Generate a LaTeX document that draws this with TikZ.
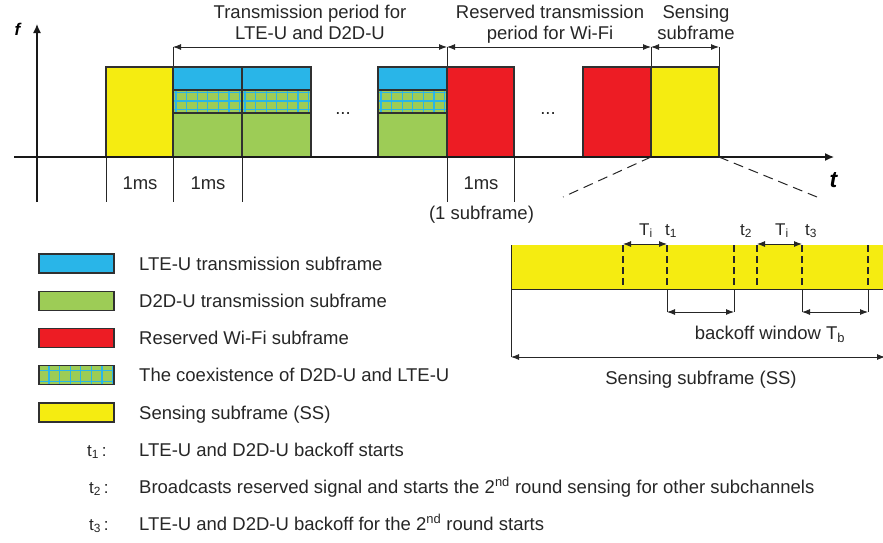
\documentclass[tikz,border=0pt]{standalone}
\usepackage{fontspec}
\setmainfont{Liberation Sans}
\usetikzlibrary{arrows.meta,positioning,calc}
\definecolor{lteblue}{RGB}{41,181,232}
\definecolor{dgreen}{RGB}{157,204,86}
\definecolor{wred}{RGB}{237,28,36}
\definecolor{ssyellow}{RGB}{245,236,17}
\definecolor{edge}{RGB}{48,48,48}
\tikzset{
  sub/.style    = { draw=edge, line width=1.4pt },
  lte/.style    = { sub, fill=lteblue },
  d2d/.style    = { sub, fill=dgreen },
  wifi/.style   = { sub, fill=wred },
  sens/.style   = { sub, fill=ssyellow },
  gridline/.style = { draw=lteblue, line width=1.1pt },
  coex/.style 2 args = { sub, fill=dgreen, path picture={
      \foreach \k in {0,...,7}
        \draw[gridline] ($(path picture bounding box.north west)+(#1+10.6*\k,0)$) -- +(0,40);
      \foreach \gy in {#2}
        \draw[gridline] ($(path picture bounding box.north west)+(0,\gy)$) -- +(90,0);
    }},
  lgd/.style    = { sub, minimum width=75pt, minimum height=19pt, inner sep=0pt, outer sep=0pt },
  txt/.style    = { inner sep=0pt, font=\fontsize{18.5}{21}\selectfont, text=black!85 },
  lgtxt/.style  = { txt, text depth=0pt },
  small/.style  = { inner sep=0pt, font=\fontsize{17}{20}\selectfont, text=black!85 },
  axis/.style   = { ->, >={Latex[length=9pt,width=8pt]}, line width=1.3pt, draw=black!90 },
  dim/.style    = { <->, >={Latex[length=8pt,width=6pt]}, line width=0.9pt, draw=black!85 },
  tick/.style   = { line width=1pt, draw=black!85 },
  slot/.style   = { line width=1.2pt, draw=black!85, dash pattern=on 7pt off 4pt },
  zoomline/.style = { line width=1pt, draw=black!85, dash pattern=on 10pt off 6pt }
}
\begin{document}
\begin{tikzpicture}[x=1pt, y=-1pt]
  \useasboundingbox (0,0) rectangle (883,542);
  % time axis ticks
  \foreach \x in {106,242,514} \draw[tick] (\x,157) -- (\x,202);
  \foreach \x in {173,447} \draw[tick] (\x,47) -- (\x,202);
  \foreach \x in {651,719} \draw[tick] (\x,47) -- (\x,67);

  % subframes
  \draw[sens] (106,67) rectangle (173,157);
  \foreach \x in {173,242,378} {
    \draw[lte] (\x,67) rectangle ++(69,23);
    \draw[coex={3}{2.5,11,19.5}] (\x,90) rectangle ++(69,23);
    \draw[d2d] (\x,113) rectangle ++(69,44);
  }
  \draw[wifi] (447,67) rectangle (514,157);
  \draw[wifi] (583,67) rectangle (651,157);
  \draw[sens] (651,67) rectangle (719,157);
  \node[txt, anchor=base] (dots1) at (343,114) {...};
  \node[txt, anchor=base] (dots2) at (548,114) {...};

  % axes
  \coordinate (t0) at (14,157);
  \coordinate (t1) at (834,157);
  \coordinate (f0) at (37,202);
  \coordinate (f1) at (37,24);
  \draw[axis] (t0) -- (t1);
  \draw[axis] (f0) -- (f1);
  \node[inner sep=0pt, font=\fontsize{17}{17}\selectfont\bfseries\itshape] (flbl) at (17.5,29) {f};
  \node[inner sep=0pt, font=\fontsize{23}{23}\selectfont\bfseries\itshape] (tlbl) at (833.5,180) {t};

  % periods
  \coordinate (p0) at (173,47);
  \coordinate (p1) at (447,47);
  \coordinate (p2) at (651,47);
  \coordinate (p3) at (719,47);
  \draw[dim] (p0) -- (p1);
  \draw[dim] (p1) -- (p2);
  \draw[dim] (p2) -- (p3);
  \node[txt, align=center, anchor=north] (hlte) at (310,4.5) {Transmission period for\\LTE-U and D2D-U};
  \node[txt, align=center, anchor=north] (hwifi) at (550,4.5) {Reserved transmission\\period for Wi-Fi};
  \node[txt, align=center, anchor=north] (hss) at (696,4.5) {Sensing\\subframe};

  \node[txt, anchor=base] (ms1) at (140,189) {1ms};
  \node[txt, anchor=base] (ms2) at (208,189) {1ms};
  \node[txt, anchor=base] (ms3) at (481,189) {1ms};
  \node[txt, anchor=base] (onesub) at (481.5,219) {(1 subframe)};

  % zoom into the sensing subframe
  \coordinate (zl0) at (651,157);
  \coordinate (zl1) at (563,197);
  \coordinate (zr0) at (719,157);
  \coordinate (zr1) at (817,197);
  \draw[zoomline] (zl0) -- (zl1);
  \draw[zoomline] (zr0) -- (zr1);

  \fill[ssyellow] (511,245) rectangle (890,289);
  \draw[tick] (511,289) -- (890,289);
  \draw[tick] (511,245) -- (511,357);
  \foreach \x in {623,667,734,757,802,868} \draw[slot] (\x,245) -- (\x,289);
  \foreach \x in {667,734,802,868} \draw[tick] (\x,289) -- (\x,312);

  \coordinate (i1s) at (623,244);
  \coordinate (i1e) at (667,244);
  \coordinate (i2s) at (757,244);
  \coordinate (i2e) at (802,244);
  \coordinate (b1s) at (667,312);
  \coordinate (b1e) at (734,312);
  \coordinate (b2s) at (802,312);
  \coordinate (b2e) at (868,312);
  \coordinate (ss0) at (511,357);
  \coordinate (ss1) at (885,357);
  \draw[dim] (i1s) -- (i1e);
  \draw[dim] (i2s) -- (i2e);
  \draw[dim] (b1s) -- (b1e);
  \draw[dim] (b2s) -- (b2e);
  \draw[dim] (ss0) -- (ss1);

  \node[small, anchor=base] (ti1) at (646,235) {T\textsubscript{i}};
  \node[small, anchor=base] (tt1) at (671,235) {t\textsubscript{1}};
  \node[small, anchor=base] (tt2) at (746,235) {t\textsubscript{2}};
  \node[small, anchor=base] (ti2) at (782,235) {T\textsubscript{i}};
  \node[small, anchor=base] (tt3) at (811,235) {t\textsubscript{3}};
  \node[txt, anchor=base] (bowin) at (770,339) {backoff window T\textsubscript{b}};
  \node[txt, anchor=base] (sslbl) at (701,384) {Sensing subframe (SS)};

  % legend
  \begin{scope}[on grid, node distance=37.25pt]
    \node[lgd, fill=lteblue] (lg1) at (76.5,263.5) {};
    \node[lgd, fill=dgreen, below=of lg1] (lg2) {};
    \node[lgd, fill=wred, below=of lg2] (lg3) {};
    \node[lgd, coex={10}{5,16}, below=of lg3] (lg4) {};
    \node[lgd, fill=ssyellow, below=of lg4] (lg5) {};
  \end{scope}
  \node[lgtxt, right=25pt of lg1] (lgt1) {LTE-U transmission subframe};
  \node[lgtxt, right=25pt of lg2] (lgt2) {D2D-U transmission subframe};
  \node[lgtxt, right=25pt of lg3] (lgt3) {Reserved Wi-Fi subframe};
  \node[lgtxt, right=25pt of lg4] (lgt4) {The coexistence of D2D-U and LTE-U};
  \node[lgtxt, right=25pt of lg5] (lgt5) {Sensing subframe (SS)};

  % notes
  \node[small, anchor=base west] (n1) at (87,456) {t\textsubscript{1}\,:};
  \node[small, anchor=base west] (n2) at (89,493) {t\textsubscript{2}\,:};
  \node[small, anchor=base west] (n3) at (89,530) {t\textsubscript{3}\,:};
  \node[txt, anchor=base west] (nt1) at (139,456) {LTE-U and D2D-U backoff starts};
  \node[txt, anchor=base west] (nt2) at (139,493) {Broadcasts reserved signal and starts the 2\textsuperscript{nd} round sensing for other subchannels};
  \node[txt, anchor=base west] (nt3) at (139,530) {LTE-U and D2D-U backoff for the 2\textsuperscript{nd} round starts};
\end{tikzpicture}
\end{document}
